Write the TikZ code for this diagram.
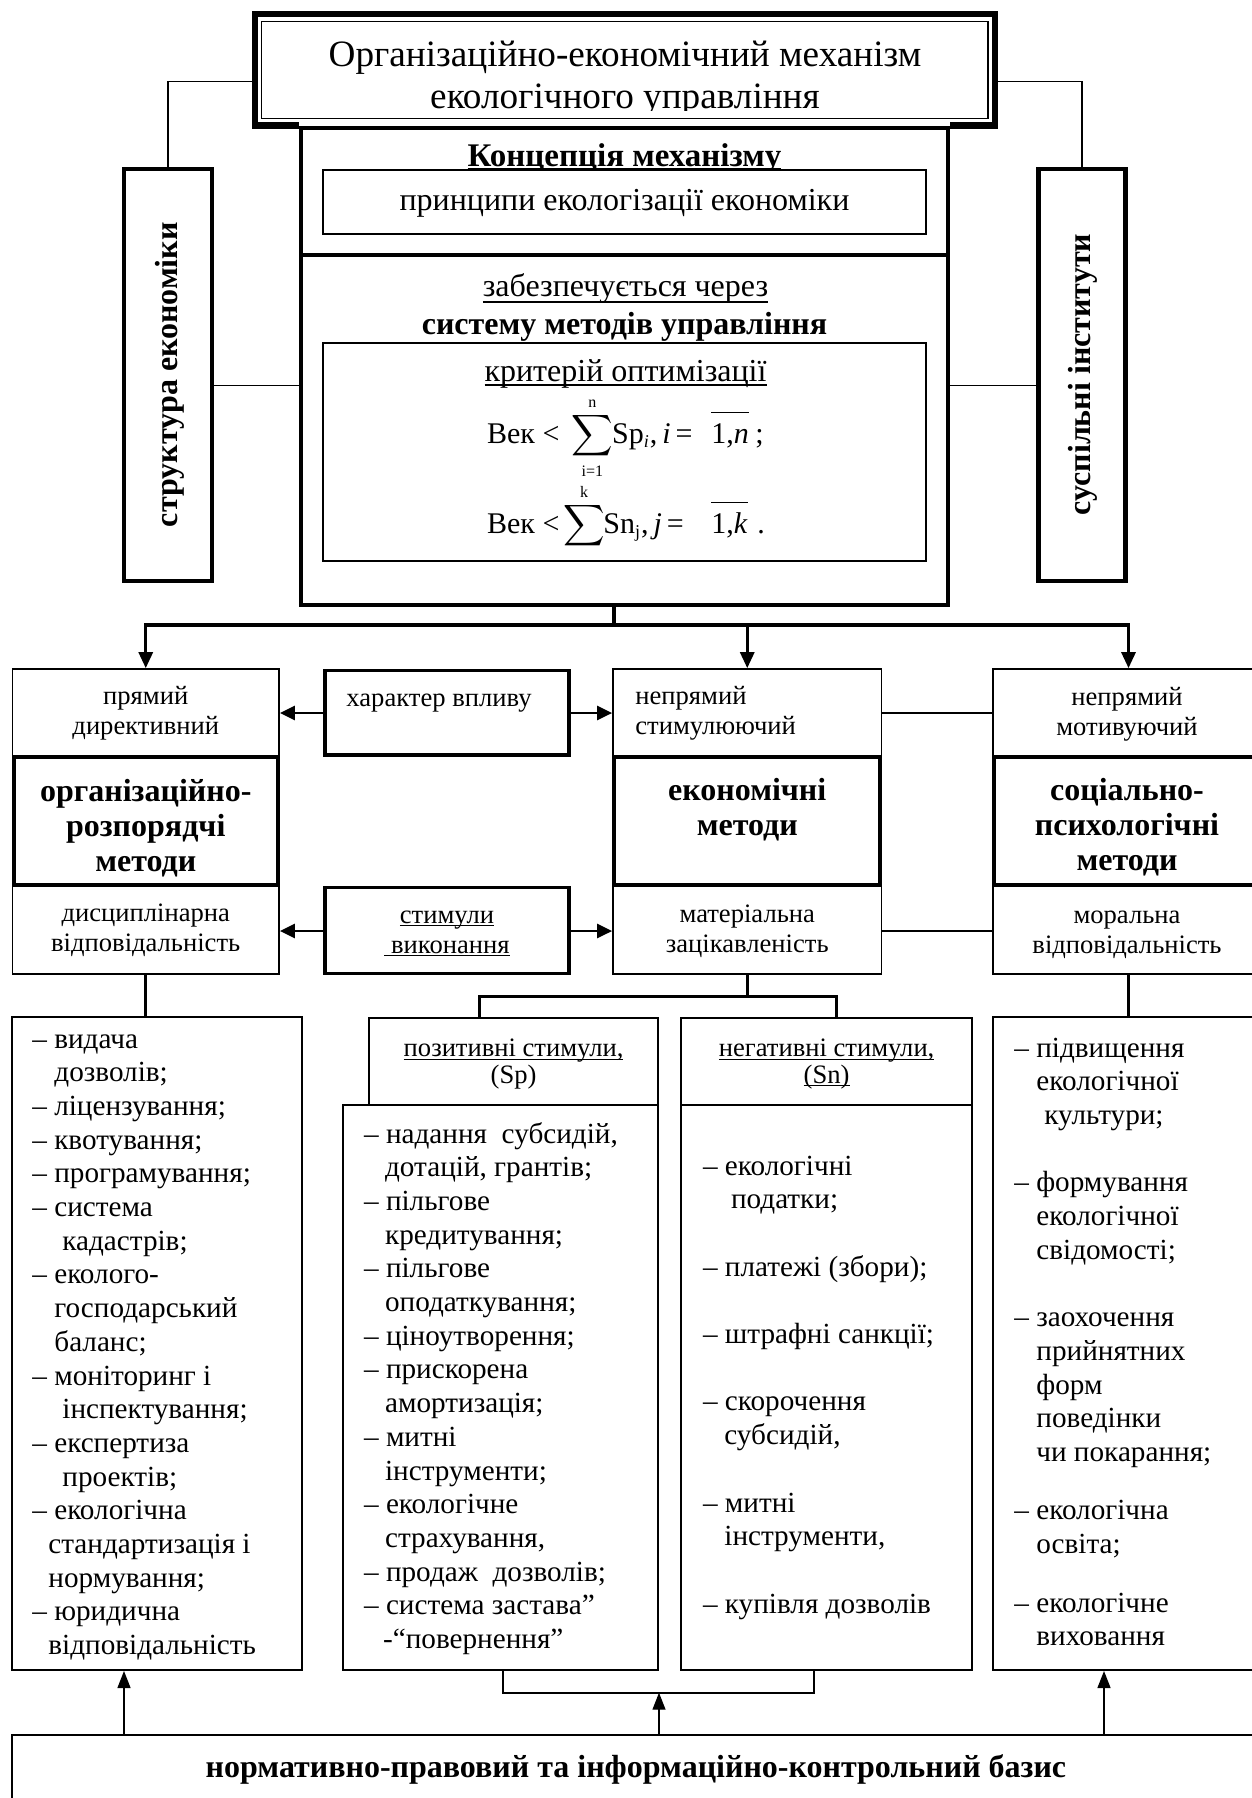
\documentclass[tikz,border=0pt]{standalone}
\usepackage{exscale}
\usepackage{fontspec}
\setmainfont{Liberation Serif}
\usetikzlibrary{arrows.meta,fit,calc}
\newcommand\cstack[1]{\vtop{\lineskiplimit=-\maxdimen\halign{\hfil##\hfil\cr#1\crcr}}}
\newcommand\lstack[1]{\vtop{\lineskiplimit=-\maxdimen\halign{##\hfil\cr#1\crcr}}}
\newcommand\uln[2][1.5pt]{\setbox0\hbox{#2}\rlap{\rule[-#1]{\wd0}{0.6pt}}\box0}
\newcommand\ovl[1]{\setbox0\hbox{#1}\rlap{\rule[15pt]{\wd0}{0.6pt}}\box0}
\tikzset{
  bxthin/.style={draw, line width=0.85pt, fill=white, inner sep=0pt},
  bxlist/.style={draw, line width=1pt, fill=white, inner sep=0pt},
  bxmid/.style={draw, line width=1.65pt, fill=white, inner sep=0pt},
  bxthick/.style={draw, line width=2pt, fill=white, inner sep=0pt},
  tx/.style={inner sep=0pt, anchor=base},
  ftitle/.style={font=\fontsize{18.6}{21}\selectfont},
  fconc/.style={font=\bfseries\fontsize{16.5}{18}\selectfont},
  fmid/.style={font=\fontsize{16}{18}\selectfont},
  fsys/.style={font=\bfseries\fontsize{16}{18}\selectfont},
  fvert/.style={font=\bfseries\fontsize{16}{18}\selectfont},
  fsm/.style={font=\fontsize{13.3}{15}\selectfont},
  fhead/.style={font=\fontsize{13.3}{13.2}\selectfont},
  flist/.style={font=\fontsize{14.6}{16.85}\selectfont},
  fmeth/.style={font=\bfseries\fontsize{16}{17.5}\selectfont},
  fbase/.style={font=\bfseries\fontsize{16}{18}\selectfont},
  fml/.style={font=\fontsize{15}{17}\selectfont},
  conn/.style={line width=0.65pt},
  barline/.style={line width=1.65pt, line cap=rect},
  arrthick/.style={line width=1.5pt, -{Triangle[length=8pt,width=7pt]}},
  arrmid/.style={line width=1.35pt, -{Triangle[length=7.5pt,width=7pt]}},
  arrthin/.style={line width=0.65pt, -{Triangle[length=8.5pt,width=6.5pt]}},
}
\begin{document}
\begin{tikzpicture}[x=0.5pt,y=-0.5pt]
\useasboundingbox (0,0) rectangle (1252,1798);
% helper coordinates
\coordinate (tc) at (0,81.7);
\coordinate (sc) at (0,385.5);
\coordinate (topx) at (614,625);
\coordinate (ra) at (0,713);
\coordinate (rb) at (0,931);
\coordinate (brk) at (0,996.7);
\coordinate (bxL) at (479.4,0);
\coordinate (bxR) at (836.3,0);
\coordinate (bk) at (0,1692.7);
\coordinate (bk1) at (503,0);
\coordinate (bk2) at (814.4,0);
\coordinate (b1) at (124,0);
\coordinate (b2) at (659,0);
\coordinate (b3) at (1104,0);

% title
\node[draw, line width=3.15pt, inner sep=0pt, fit={(254.8,14.2)(994.8,125.5)}] (title) {};
\node[draw, line width=0.7pt, inner sep=0pt, fit={(261.5,21.3)(988,118.3)}] (titlein) {};
\begin{scope}
\clip (262,22) rectangle (988,111);
\node[tx, ftitle] (titletext) at (625,67) {\cstack{Організаційно-економічний механізм\cr екологічного управління}};
\end{scope}
\fill[white] (299,119.8) rectangle (950,126);

% concept and system
\node[bxthick, fit={(301,128)(948,255)}] (concept) {};
\node[tx, fconc] (concepttext) at (624.5,166.7) {\uln[1pt]{Концепція механізму}};
\node[bxthin, fit={(323,170)(926,234)}] (princ) {};
\node[tx, fmid] (princtext) at (624.5,210) {принципи екологізації економіки};
\node[bxthick, fit={(301,255)(948,605)}] (sys) {};
\node[tx, fmid] (zt) at (625.5,296.6) {\uln[3pt]{забезпечується через}};
\node[tx, fsys] (st) at (624.5,334) {систему методів управління};
\node[bxthin, fit={(323,343)(926,561)}] (crit) {};
\node[tx, fmid] (kt) at (625.5,381.6) {\uln[2pt]{критерій оптимізації}};
% formula 1
\node[tx, fml, anchor=base west] (f1a) at (486.7,443) {Век <};
\node[tx, fml] (f1s) at (592.4,443) {$\displaystyle\sum_{\mbox{\fontsize{8}{8}\selectfont i=1}}^{\mbox{\fontsize{8}{8}\selectfont n}}$};
\node[tx, fml, anchor=base west] (f1b) at (611.7,443) {Sp$_{\mbox{\fontsize{9}{9}\selectfont\itshape i}}$,\,\textit{i}\,=};
\node[tx, fml, anchor=base west] (f1c) at (711,443) {\ovl{1,\textit{n}}};
\node[tx, fml, anchor=base west] (f1d) at (755,443) {;};
% formula 2
\node[tx, fml, anchor=base west] (f2a) at (486.7,533) {Век <};
\node[tx, fml] (f2s) at (584,533) {$\displaystyle\sum^{\mbox{\fontsize{8}{8}\selectfont k}}$};
\node[tx, fml, anchor=base west] (f2b) at (603,533) {Sn$_{\mbox{\fontsize{9}{9}\selectfont j}}$,\,\textit{j}\,=};
\node[tx, fml, anchor=base west] (f2c) at (711,533) {\ovl{1,\textit{k}}};
\node[tx, fml, anchor=base west] (f2d) at (757,533) {.};

% side boxes
\node[draw, line width=2.1pt, inner sep=0pt, fit={(124,168.7)(212,581)}] (lv) {};
\node[tx, fvert, rotate=90] (lvtext) at (177,374.7) {структура економіки};
\node[draw, line width=2.1pt, inner sep=0pt, fit={(1038.4,168.7)(1125.4,581)}] (rv) {};
\node[tx, fvert, rotate=90] (rvtext) at (1090,374.5) {суспільні інститути};
\draw[conn] (title.west |- tc) -| (lv.north);
\draw[conn] (title.east |- tc) -| (rv.north);
\draw[conn] (lv.east |- sc) -- (sys.west |- sc);
\draw[conn] (rv.west |- sc) -- (sys.east |- sc);

% row boxes (thin first)
\node[bxthin, fit={(12.5,669)(279,757)}] (pd) {};
\node[bxthin, fit={(613,669)(881.5,757)}] (ns) {};
\node[bxthin, fit={(993,669)(1264,757)}] (nm) {};
\node[bxthin, fit={(12.5,885)(279,974)}] (dv) {};
\node[bxthin, fit={(613,885)(881.5,974)}] (mz) {};
\node[bxthin, fit={(993,885)(1264,974)}] (mv) {};
\node[bxmid, fit={(325,670.5)(569,755)}] (hv) {};
\node[bxmid, fit={(325,887.5)(569,973.5)}] (sv) {};
\node[bxthick, fit={(14,757)(278,885)}] (om) {};
\node[bxthick, fit={(614,757)(880,885)}] (em) {};
\node[bxthick, fit={(994,757)(1266,885)}] (sm) {};

% top distribution
\draw[barline] (sys.south -| topx) -- (topx);
\draw[barline] (pd.north |- topx) -- (nm.north |- topx);
\draw[arrthick] (pd.north |- topx) -- (pd.north);
\draw[arrthick] (ns.north |- topx) -- (ns.north);
\draw[arrthick] (nm.north |- topx) -- (nm.north);

% horizontal links
\draw[arrmid] (hv.west |- ra) -- (pd.east |- ra);
\draw[arrmid] (hv.east |- ra) -- (ns.west |- ra);
\draw[line width=1pt] (ns.east |- ra) -- (nm.west |- ra);
\draw[arrmid] (sv.west |- rb) -- (dv.east |- rb);
\draw[arrmid] (sv.east |- rb) -- (mz.west |- rb);
\draw[line width=1pt] (mz.east |- rb) -- (mv.west |- rb);

% row texts
\node[tx, fsm] (pdt) at (145.75,704) {\cstack{прямий\cr директивний}};
\node[tx, fsm] (hvt) at (439,706) {характер впливу};
\node[tx, fsm, anchor=base west] (nst) at (635,704) {\lstack{непрямий\cr стимулюючий}};
\node[tx, fsm] (nmt) at (1127,705) {\cstack{непрямий\cr мотивуючий}};
\node[tx, fmeth] (omt) at (145.75,801.7) {\cstack{організаційно-\cr розпорядчі\cr методи}};
\node[tx, fmeth] (emt) at (747.25,800) {\cstack{економічні\cr методи}};
\node[tx, fmeth] (smt) at (1127,800) {\cstack{соціально-\cr психологічні\cr методи}};
\node[tx, fsm] (dvt) at (145.75,921.7) {\cstack{дисциплінарна\cr відповідальність}};
\node[tx, fsm] (svt) at (447,923.3) {\cstack{\uln{стимули}\cr\uln{ виконання}}};
\node[tx, fsm] (mzt) at (747.25,922) {\cstack{матеріальна\cr зацікавленість}};
\node[tx, fsm] (mvt) at (1127,923) {\cstack{моральна\cr відповідальність}};

% lower boxes
\node[bxlist, fit={(12,1017)(302,1670)}] (l1) {};
\node[bxlist, fit={(369,1018.3)(658.3,1105)}] (sph) {};
\node[bxlist, fit={(342.6,1105)(658.3,1670)}] (spl) {};
\node[bxlist, fit={(681.4,1018.3)(971.8,1105)}] (snh) {};
\node[bxlist, fit={(681.4,1105)(971.8,1670)}] (snl) {};
\node[bxlist, fit={(993,1017)(1266,1670)}] (l4) {};
\node[bxlist, fit={(12,1735)(1266,1812)}] (base) {};

\draw[barline] (dv.south) -- (dv.south |- l1.north);
\draw[barline] (mz.south) -- (mz.south |- brk);
\draw[barline] (bxL |- brk) -- (bxR |- brk);
\draw[barline] (bxL |- brk) -- (bxL |- sph.north);
\draw[barline] (bxR |- brk) -- (bxR |- snh.north);
\draw[barline] (mv.south) -- (mv.south |- l4.north);

\draw[line width=1pt] (bk1 |- spl.south) |- (bk2 |- bk) -- (bk2 |- snl.south);
\draw[arrthin] (base.north -| b1) -- (l1.south -| b1);
\draw[arrthin] (base.north -| b2) -- (bk -| b2);
\draw[arrthin] (base.north -| b3) -- (l4.south -| b3);

% header texts
\node[tx, fhead] (spht) at (513.6,1056.7) {\cstack{\uln{позитивні стимули,}\cr (Sp)}};
\node[tx, fhead] (snht) at (826.6,1056.7) {\cstack{\uln{негативні стимули,}\cr \uln{(Sn)}}};

% lists
\node[tx, flist, anchor=base west] (l1t) at (32,1048) {\lstack{– видача\cr
\kern11pt дозволів;\cr
– ліцензування;\cr
– квотування;\cr
– програмування;\cr
– система\cr
\kern15pt кадастрів;\cr
– еколого-\cr
\kern11pt господарський\cr
\kern11pt баланс;\cr
– моніторинг і\cr
\kern15pt інспектування;\cr
– експертиза\cr
\kern15pt проектів;\cr
– екологічна\cr
\kern8pt стандартизація і\cr
\kern8pt нормування;\cr
– юридична\cr
\kern8pt відповідальність}};

\node[tx, flist, anchor=base west] (splt) at (363.7,1143) {\lstack{– надання\ \ субсидій,\cr
\kern10.5pt дотацій, грантів;\cr
– пільгове\cr
\kern10.5pt кредитування;\cr
– пільгове\cr
\kern10.5pt оподаткування;\cr
– ціноутворення;\cr
– прискорена\cr
\kern10.5pt амортизація;\cr
– митні\cr
\kern10.5pt інструменти;\cr
– екологічне\cr
\kern10.5pt страхування,\cr
– продаж\ \ дозволів;\cr
– система застава”\cr
\kern9.5pt -“повернення”}};

\node[tx, flist, anchor=base west] (snlt) at (702.6,1175) {\lstack{– екологічні\cr
\kern14pt податки;\cr
\cr
– платежі (збори);\cr
\cr
– штрафні санкції;\cr
\cr
– скорочення\cr
\kern10.7pt субсидій,\cr
\cr
– митні\cr
\kern10.7pt інструменти,\cr
\cr
– купівля дозволів}};

\node[tx, flist, anchor=base west] (l4t) at (1014,1057) {\lstack{– підвищення\cr
\kern11pt екологічної\cr
\kern15pt культури;\cr
\cr
– формування\cr
\kern11pt екологічної\cr
\kern11pt свідомості;\cr
\cr
– заохочення\cr
\kern11pt прийнятних\cr
\kern11pt форм\cr
\kern11pt поведінки\cr
\kern11pt чи покарання;\cr
\noalign{\vskip12.25pt}
– екологічна\cr
\kern11pt освіта;\cr
\noalign{\vskip12.5pt}
– екологічне\cr
\kern11pt виховання}};

\node[tx, fbase] (baset) at (636,1777) {нормативно-правовий та інформаційно-контрольний базис};
\end{tikzpicture}
\end{document}
